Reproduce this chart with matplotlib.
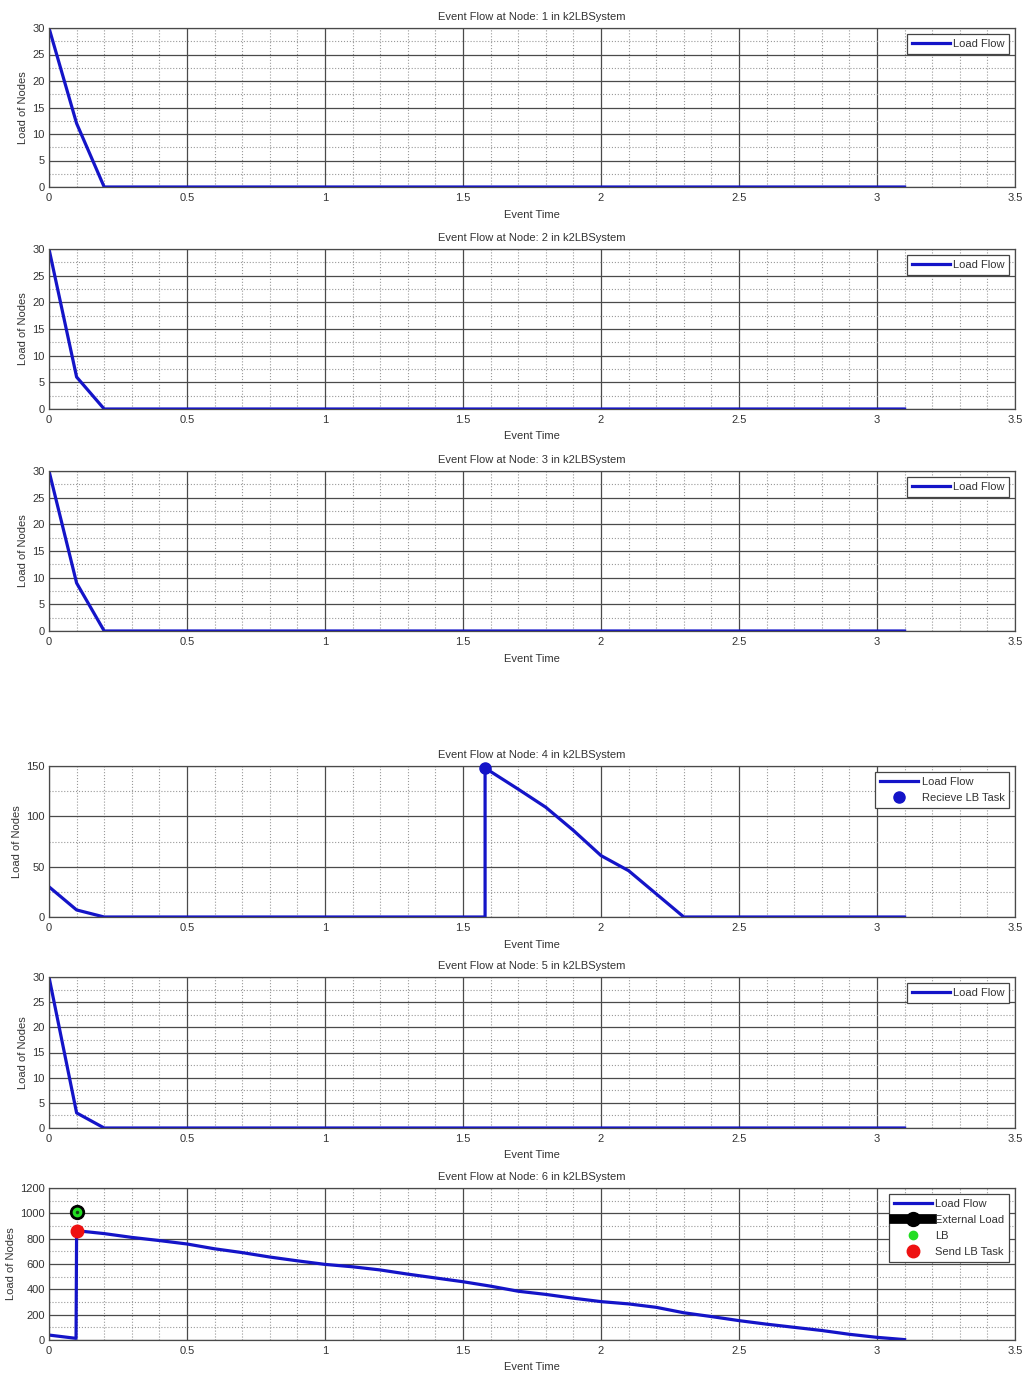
import matplotlib
matplotlib.use("Agg")
import matplotlib.pyplot as plt
from matplotlib import font_manager
from matplotlib.ticker import MultipleLocator

# ---- data ----------------------------------------------------------------
t_base = [round(0.1 * i, 1) for i in range(32)]          # 0.0 .. 3.1

node1_load = [30, 12] + [0] * 30
node2_load = [30, 6] + [0] * 30
node3_load = [30, 9] + [0] * 30
node5_load = [30, 3] + [0] * 30

node4_time = [0.0, 0.1, 0.2, 1.58, 1.58, 1.7, 1.8, 1.9, 2.0, 2.1, 2.2, 2.3, 3.1]
node4_load = [30, 7, 0, 0, 148, 127, 109, 86, 61, 46, 23, 0, 0]
node4_recv_time = [1.58]
node4_recv_load = [148]

node6_time = [0.0, 0.098, 0.1] + [round(0.1 * i, 1) for i in range(2, 32)]
node6_load = [39, 13, 863, 840, 810, 785, 758, 720, 690, 655, 625, 597,
              578, 553, 520, 490, 460, 425, 385, 360, 330, 303, 285, 258,
              215, 185, 153, 125, 100, 75, 45, 21, 3]
node6_ext_time = [0.1]
node6_ext_load = [1008]
node6_lb_time = [0.1]
node6_lb_load = [1008]
node6_send_time = [0.1]
node6_send_load = [863]

# ---- styling -------------------------------------------------------------
names = {f.name for f in font_manager.fontManager.ttflist}
family = "Liberation Sans Narrow" if "Liberation Sans Narrow" in names else "Liberation Sans"
plt.rcParams["font.family"] = [family, "DejaVu Sans"]
FS = 8
plt.rcParams["font.size"] = FS

TEXT = "#333333"
BLUE = "#1414c8"

fig = plt.figure(figsize=(10.27, 13.74), dpi=100)
H = 1374.0
W = 1027.0

def make_axes(top_px, bot_px):
    left = 49 / W
    width = (1015 - 49) / W
    bottom = 1 - bot_px / H
    height = (bot_px - top_px) / H
    return fig.add_axes([left, bottom, width, height])

def style(ax, node, ymax, ymajor):
    ax.set_xlim(0, 3.5)
    ax.set_ylim(0, ymax)
    ax.xaxis.set_major_locator(MultipleLocator(0.5))
    ax.xaxis.set_minor_locator(MultipleLocator(0.1))
    ax.yaxis.set_major_locator(MultipleLocator(ymajor))
    ax.yaxis.set_minor_locator(MultipleLocator(ymajor / 2))
    ax.grid(which="major", color="#4a4a4a", linestyle="-", linewidth=0.9)
    ax.grid(which="minor", color="#999999", linestyle=":", linewidth=0.8)
    ax.set_axisbelow(True)
    ax.tick_params(which="both", direction="in", length=0, colors=TEXT,
                   labelsize=FS)
    ax.tick_params(axis="x", pad=4)
    ax.tick_params(axis="y", pad=3)
    ax.xaxis.set_major_formatter(plt.FuncFormatter(lambda v, p: f"{v:g}"))
    for s in ax.spines.values():
        s.set_color("#4a4a4a")
        s.set_linewidth(0.9)
    ax.set_title(f"Event Flow at Node: {node} in k2LBSystem", fontsize=FS,
                 color=TEXT, pad=6)
    ax.set_xlabel("Event Time", fontsize=FS, color=TEXT, labelpad=5)
    ax.set_ylabel("Load of Nodes", fontsize=FS, color=TEXT, labelpad=3)

def legend(ax):
    leg = ax.legend(loc="upper right", fontsize=FS, handlelength=3.4,
                    handletextpad=0.3, borderpad=0.45, labelspacing=0.55,
                    fancybox=False, framealpha=1, borderaxespad=0.5)
    leg.get_frame().set_edgecolor("#444444")
    leg.get_frame().set_linewidth(0.9)
    for txt in leg.get_texts():
        txt.set_color(TEXT)

panels = [
    (28, 187, 1, node1_load),
    (249, 409, 2, node2_load),
    (471, 631, 3, node3_load),
]
for top, bot, node, load in panels:
    ax = make_axes(top, bot)
    ax.plot(t_base, load, color=BLUE, linewidth=2.3, label="Load Flow")
    style(ax, node, 30, 5)
    legend(ax)

# node 4
ax = make_axes(766, 917)
ax.plot(node4_time, node4_load, color=BLUE, linewidth=2.3, label="Load Flow")
ax.plot(node4_recv_time, node4_recv_load, "o", color=BLUE, markersize=8,
        label="Recieve LB Task", clip_on=False, zorder=5)
style(ax, 4, 150, 50)
legend(ax)

# node 5
ax = make_axes(977, 1128)
ax.plot(t_base, node5_load, color=BLUE, linewidth=2.3, label="Load Flow")
style(ax, 5, 30, 5)
legend(ax)

# node 6
ax = make_axes(1188, 1340)
ax.plot(node6_time, node6_load, color=BLUE, linewidth=2.3, label="Load Flow")
ax.plot(node6_ext_time, node6_ext_load, "-o", color="black", linewidth=7,
        markersize=10, label="External Load", zorder=5)
ax.plot(node6_lb_time, node6_lb_load, "o", color="#22dd22", markersize=6,
        markeredgecolor="#22dd22", label="LB", zorder=6)
ax.plot(node6_lb_time, node6_lb_load, "o", color="#114411", markersize=1.5,
        zorder=7)
ax.plot(node6_send_time, node6_send_load, "o", color="#ee1111", markersize=9,
        label="Send LB Task", zorder=5)
style(ax, 6, 1200, 200)
legend(ax)

fig.savefig("out.png", dpi=100, facecolor="white")
